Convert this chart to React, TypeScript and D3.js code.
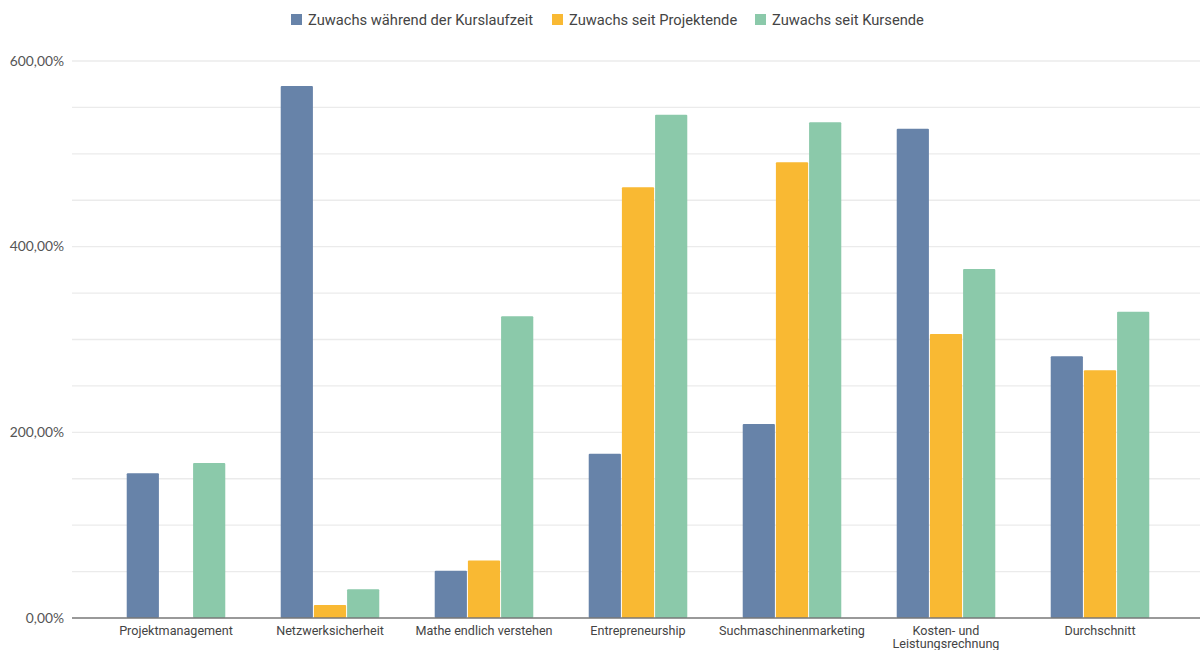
import React from "react";
import * as d3 from "d3";

const categories: string[][] = [
  ["Projektmanagement"],
  ["Netzwerksicherheit"],
  ["Mathe endlich verstehen"],
  ["Entrepreneurship"],
  ["Suchmaschinenmarketing"],
  ["Kosten- und", "Leistungsrechnung"],
  ["Durchschnitt"],
];
const seriesNames = [
  "Zuwachs während der Kurslaufzeit",
  "Zuwachs seit Projektende",
  "Zuwachs seit Kursende",
];
const kurslaufzeit = [156, 573, 51, 177, 209, 527, 282];
const projektende = [0, 14, 62, 464, 491, 306, 267];
const kursende = [167, 31, 325, 542, 534, 376, 330];
const colors = ["#6783a9", "#f9b933", "#8bc9aa"];
const yTicks = [0, 200, 400, 600];
const gridTicks = [50, 100, 150, 200, 250, 300, 350, 400, 450, 500, 550, 600];

export default function App() {
  const W = 1200, H = 650;
  const series = [kurslaufzeit, projektende, kursende];
  const y = d3.scaleLinear().domain([0, 600]).range([618, 61]);
  const x = d3.scaleBand<number>().domain(d3.range(categories.length)).range([99, 1177]).paddingInner(0.36).paddingOuter(0.18);
  const xs = d3.scaleBand<number>().domain([0, 1, 2]).range([0, x.bandwidth()]).paddingInner(0.03);
  const fmt = (v: number) => v.toFixed(2).replace(".", ",") + "%";
  const legendX = [291, 552, 755];
  return (
    <svg width={W} height={H} style={{ position: "absolute", left: 0, top: 0, background: "#fff" }}>
      {gridTicks.map((t) => (
        <line key={t} x1={72} x2={1200} y1={y(t)} y2={y(t)} stroke="#ebebeb" strokeWidth={1.3} />
      ))}
      {yTicks.map((t) => (
        <text key={t} x={64} y={y(t)} dy="0.35em" textAnchor="end" fontFamily="Lato" fontSize={13.8} fill="#555">
          {fmt(t)}
        </text>
      ))}
      {series.map((s, si) =>
        s.map((v, ci) =>
          v > 0 ? (
            <rect key={si + "-" + ci} x={x(ci)! + xs(si)!} y={y(v)} width={xs.bandwidth()} height={y(0) - y(v)} fill={colors[si]} rx={1} />
          ) : null
        )
      )}
      <line x1={72} x2={1200} y1={y(0)} y2={y(0)} stroke="#777" strokeWidth={1.6} />
      {categories.map((lines, ci) =>
        lines.map((l, li) => (
          <text key={ci + "-" + li} x={x(ci)! + x.bandwidth() / 2} y={635 + li * 13} textAnchor="middle" fontFamily="Roboto" fontSize={12.6} fill="#444">
            {l}
          </text>
        ))
      )}
      {seriesNames.map((n, i) => (
        <g key={n} transform={`translate(${legendX[i]},0)`}>
          <rect x={0} y={14} width={11} height={11} fill={colors[i]} />
          <text x={17} y={20} dy="0.35em" fontFamily="Roboto" fontSize={14.7} fill="#444">{n}</text>
        </g>
      ))}
    </svg>
  );
}
